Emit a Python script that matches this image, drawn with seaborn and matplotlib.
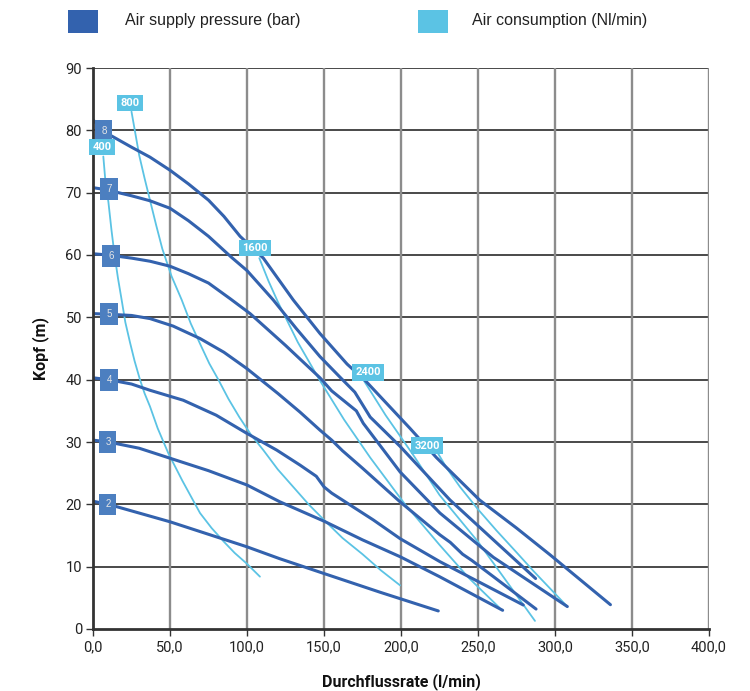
import matplotlib
matplotlib.use("Agg")
import matplotlib.pyplot as plt
from matplotlib.patches import Rectangle
import seaborn as sns
import pandas as pd

# ---------------- data ----------------
p2_x = [0, 10, 50, 99.8, 121, 150, 186.4, 224.2]
p2_y = [20.5, 20.0, 17.2, 13.2, 11.3, 8.9, 5.9, 2.9]

p3_x = [0, 10, 30, 50, 75, 100, 121.4, 150, 175, 199.4, 225, 266]
p3_y = [30.3, 30.0, 29.0, 27.4, 25.4, 23.1, 20.4, 17.3, 14.3, 11.6, 8.4, 3.0]

p4_x = [0, 10, 25, 37, 58.6, 80, 99.8, 119.3, 134.4, 145, 150, 155, 182, 199.4, 225.3, 279.4]
p4_y = [40.3, 40.0, 39.3, 38.3, 36.7, 34.3, 31.4, 28.7, 26.3, 24.5, 22.8, 21.8, 17.5, 14.5, 10.8, 3.85]

p5_x = [0, 10, 25, 37, 52, 69.5, 85, 99.8, 120, 134.4, 147.4, 155, 162, 175, 199.4, 225.3, 232, 240, 246, 260, 287.7]
p5_y = [50.6, 50.5, 50.3, 49.8, 48.6, 46.6, 44.4, 41.8, 37.8, 34.8, 31.9, 30.3, 28.6, 25.8, 20.4, 15.1, 13.9, 12.0, 11.0, 8.4, 3.2]

p6_x = [0, 10, 25, 37, 50, 62, 75, 89, 102, 125, 147.4, 155, 162.5, 171, 175.5, 199.4, 225.3, 260, 308]
p6_y = [60.2, 60.0, 59.5, 59.0, 58.2, 57.0, 55.5, 53.0, 50.6, 45.5, 40.3, 38.2, 36.7, 35.0, 33.0, 25.2, 18.6, 11.5, 3.6]

p7_x = [0, 8, 25, 37, 50, 62, 75, 89.6, 100, 117, 132, 147.4, 160, 170, 180, 199.4, 231.8, 260, 287.4]
p7_y = [70.8, 70.5, 69.5, 68.7, 67.5, 65.5, 63.0, 59.7, 57.5, 52.8, 48.2, 43.7, 40.5, 38.0, 34.0, 29.3, 20.7, 14.3, 8.1]

p8_x = [0, 7, 25, 37, 50, 62, 75, 85, 95.5, 110.6, 130, 147.4, 165, 177, 205.8, 223, 251, 275, 296.8, 336]
p8_y = [81.7, 79.8, 77.3, 75.7, 73.6, 71.4, 68.8, 66.2, 63.0, 59.5, 52.8, 47.4, 42.5, 39.8, 32.2, 27.5, 20.7, 16.2, 11.9, 3.9]

a400_x = [6.7, 8, 10, 12, 14, 16.2, 18.6, 21, 24, 27, 30.5, 33.5, 37, 42, 48.9, 58, 69.5, 77, 85, 92, 99.8, 108.4]
a400_y = [75.8, 72.0, 68.5, 64.0, 60.0, 56.3, 52.8, 49.2, 46.0, 43.0, 40.0, 37.8, 35.7, 32.2, 28.2, 23.8, 18.6, 16.2, 14.0, 12.2, 10.5, 8.4]

a800_x = [25, 27.5, 30, 33.5, 37, 41, 45, 51, 57.6, 63.5, 70, 75.5, 81.4, 88, 95, 102.5, 110.6, 120, 130, 140, 150, 162, 175, 187, 199.4]
a800_y = [83.0, 79.5, 76.0, 72.3, 68.8, 64.8, 61.0, 56.6, 52.8, 49.0, 45.5, 42.6, 40.0, 36.9, 34.0, 31.2, 28.7, 25.6, 22.8, 20.0, 17.5, 14.6, 12.0, 9.4, 7.0]

a1600_x = [108, 114, 120, 133, 147, 163, 180, 202, 225, 244, 264]
a1600_y = [59.5, 55.8, 52.5, 46.0, 40.0, 33.6, 27.5, 20.2, 13.5, 8.2, 3.4]

a2400_x = [175.5, 190, 208, 225, 250, 271, 287]
a2400_y = [40.0, 34.3, 27.9, 21.5, 14.0, 6.8, 1.3]

a3200_x = [222, 230, 238.3, 250, 262, 275, 286, 296.8, 308]
a3200_y = [29.0, 25.7, 22.8, 19.2, 15.8, 12.3, 9.3, 6.5, 3.6]

pressure_labels = ["2", "3", "4", "5", "6", "7", "8"]
pressure_label_x = [9.7, 9.7, 10.4, 10.4, 11.7, 10.4, 7.1]
pressure_label_y = [20.0, 30.0, 39.9, 50.5, 59.8, 70.6, 79.9]

air_labels = ["400", "800", "1600", "2400", "3200"]
air_label_x = [5.8, 24.0, 105.2, 178.6, 216.9]
air_label_y = [77.3, 84.4, 61.1, 41.2, 29.4]

x_ticks = [0, 50, 100, 150, 200, 250, 300, 350, 400]
x_tick_labels = ["0,0", "50,0", "100,0", "150,0", "200,0", "250,0", "300,0", "350,0", "400,0"]
y_ticks = [0, 10, 20, 30, 40, 50, 60, 70, 80, 90]

legend_labels = ["Air supply pressure (bar)", "Air consumption (Nl/min)"]

# ---------------- style ----------------
DARK = "#3362ae"
LIGHT = "#5bc3e4"
LABEL_DARK = "#4c7fc0"

sns.set_theme(style="white")
plt.rcParams["font.family"] = ["Roboto", "DejaVu Sans"]
plt.rcParams["lines.solid_joinstyle"] = "round"
plt.rcParams["lines.solid_capstyle"] = "round"

fig = plt.figure(figsize=(7.5, 6.91), dpi=100)
ax = fig.add_axes([93 / 750, 1 - 629 / 691, (709 - 93) / 750, (629 - 68) / 691])

ax.set_xlim(0, 400)
ax.set_ylim(0, 90)

# grid
for yv in y_ticks[1:]:
    ax.axhline(yv, color="#2a2a2a", lw=1.2, zorder=1)
for xv in x_ticks[1:]:
    ax.axvline(xv, color="#8c8c8c", lw=1.7, zorder=1)

pressure = [(p2_x, p2_y), (p3_x, p3_y), (p4_x, p4_y), (p5_x, p5_y),
            (p6_x, p6_y), (p7_x, p7_y), (p8_x, p8_y)]
air = [(a400_x, a400_y), (a800_x, a800_y), (a1600_x, a1600_y),
       (a2400_x, a2400_y), (a3200_x, a3200_y)]

for xs, ys in air:
    df = pd.DataFrame({"x": xs, "y": ys})
    sns.lineplot(data=df, x="x", y="y", ax=ax, color=LIGHT, lw=1.3,
                 sort=False, estimator=None, zorder=3)
for xs, ys in pressure:
    df = pd.DataFrame({"x": xs, "y": ys})
    sns.lineplot(data=df, x="x", y="y", ax=ax, color=DARK, lw=2.2,
                 sort=False, estimator=None, zorder=4)

for t, x, y in zip(pressure_labels, pressure_label_x, pressure_label_y):
    ax.text(x, y, t, ha="center", va="center", fontsize=7, color="#e6e6e6",
            family=["Liberation Sans"], zorder=6,
            bbox=dict(boxstyle="square,pad=0.6", fc=LABEL_DARK, ec="none"))
for t, x, y in zip(air_labels, air_label_x, air_label_y):
    ax.text(x, y, t, ha="center", va="center", fontsize=8, color="white",
            fontweight="bold", family=["Roboto"], zorder=6,
            bbox=dict(boxstyle="square,pad=0.3", fc=LIGHT, ec="none"))

# axes
for s in ["top", "right"]:
    ax.spines[s].set_visible(False)
for s in ["left", "bottom"]:
    ax.spines[s].set_color("#333333")
    ax.spines[s].set_linewidth(2.0)
    ax.spines[s].set_zorder(5)

ax.set_xticks(x_ticks)
ax.set_xticklabels(x_tick_labels)
ax.set_yticks(y_ticks)
ax.tick_params(axis="both", which="both", direction="out", length=5, width=1,
               color="#333333", labelsize=10.5, labelcolor="#222222", pad=3)
ax.tick_params(left=True, bottom=True)

ax.set_xlabel("Durchflussrate (l/min)", fontsize=11.5, fontweight="bold",
              color="#111111", labelpad=14)
ax.set_ylabel("Kopf (m)", fontsize=11.5, fontweight="bold", color="#111111",
              labelpad=12)

# legend
fig.add_artist(Rectangle((68 / 750, 1 - 33 / 691), 30 / 750, 23 / 691,
                         transform=fig.transFigure, fc=DARK, ec="none"))
fig.add_artist(Rectangle((418 / 750, 1 - 33 / 691), 30 / 750, 23 / 691,
                         transform=fig.transFigure, fc=LIGHT, ec="none"))
fig.text(125 / 750, 1 - 20 / 691, legend_labels[0], fontsize=11.5,
         family=["Liberation Sans"], color="#222222", va="center", ha="left")
fig.text(472 / 750, 1 - 20 / 691, legend_labels[1], fontsize=11.5,
         family=["Liberation Sans"], color="#222222", va="center", ha="left")

fig.savefig("out.png", dpi=100, facecolor="white")
